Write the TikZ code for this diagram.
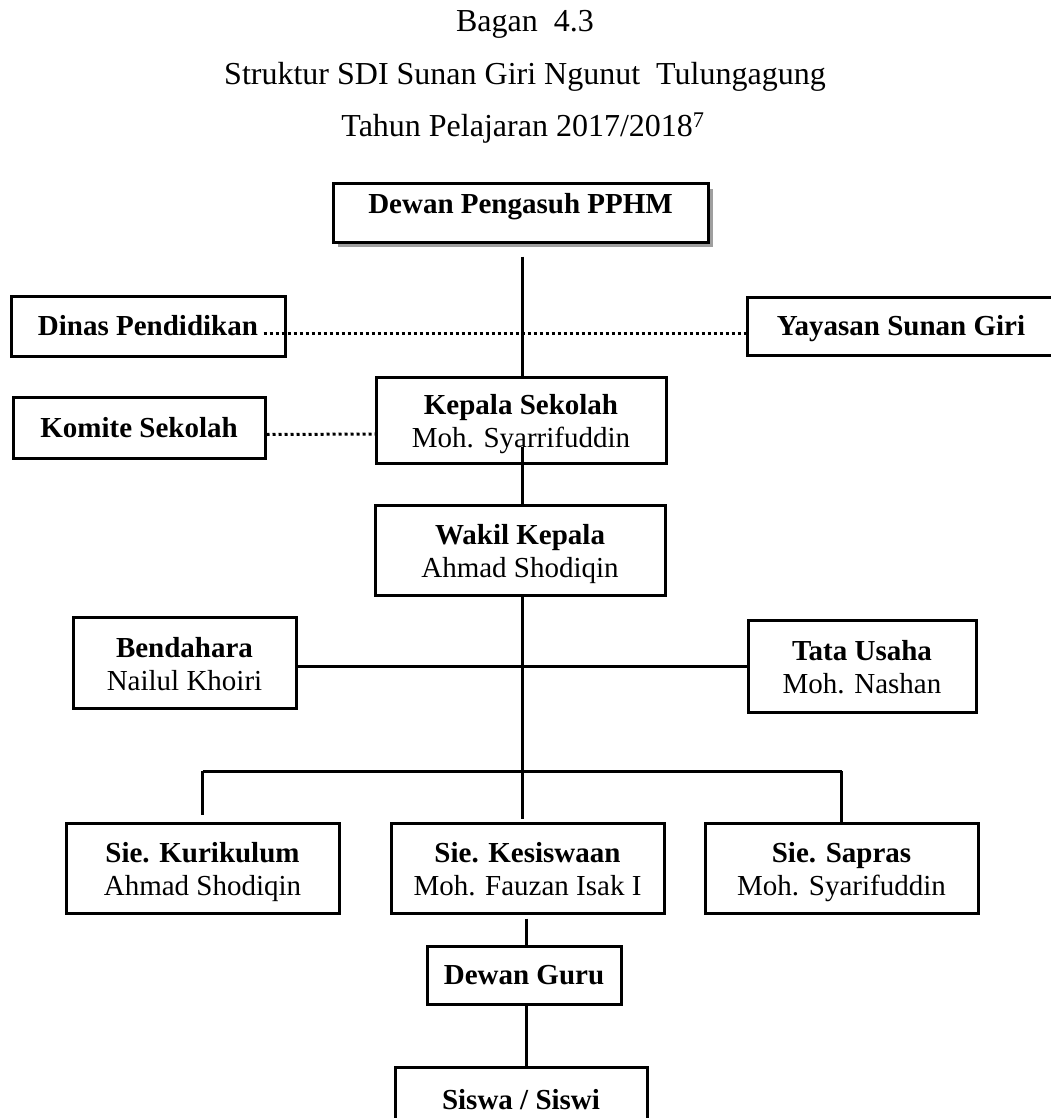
\documentclass[tikz,border=0pt]{standalone}
\usepackage{fontspec}
\setmainfont{Liberation Serif}
\usetikzlibrary{shadows}
\newcommand{\tstr}[1]{\rule{0pt}{#1}}
\newcommand{\bstr}[1]{\rule[-#1]{0pt}{0pt}}
\begin{document}
\begin{tikzpicture}[x=1pt,y=-1pt,
  box/.style={draw, line width=3pt, rectangle, inner sep=0pt, align=center, fill=white,
              font=\fontsize{29}{33}\selectfont},
  conn/.style={line width=3pt},
  dotline/.style={line width=3pt, dash pattern=on 3pt off 3pt},
  titletext/.style={font=\fontsize{32}{36}\selectfont, anchor=base, inner sep=0pt}]
\useasboundingbox (0,0) rectangle (1051,1118);

% titles
\node[titletext] (t1) at (525,32) {Bagan\ \ 4.3};
\node[titletext] (t2) at (525,85) {Struktur SDI Sunan Giri Ngunut\ \ Tulungagung};
\node[titletext] (t3) at (523,137) {Tahun Pelajaran 2017/2018\textsuperscript{7}};

% boxes
\node[box, minimum width=375pt, minimum height=58pt,
      drop shadow={shadow xshift=5pt, shadow yshift=-5pt, fill=gray!75, opacity=1}]
      (pphm) at (520.5,213) {\textbf{Dewan Pengasuh PPHM}\bstr{20pt}};
\node[box, minimum width=274pt, minimum height=60pt] (dinas) at (148,326) {\textbf{Dinas Pendidikan}};
\node[box, minimum width=308pt, minimum height=58pt] (yayasan) at (901,326) {\tstr{26pt}\textbf{Yayasan Sunan Giri}};
\node[box, minimum width=252pt, minimum height=61pt] (komite) at (139,427.5) {\textbf{Komite Sekolah}};
\node[box, minimum width=290pt, minimum height=86pt] (kepala) at (521,420) {\tstr{30pt}\textbf{Kepala Sekolah}\\Moh. Syarrifuddin\bstr{8pt}};
\node[box, minimum width=290pt, minimum height=90pt] (wakil) at (520,550) {\tstr{30pt}\textbf{Wakil Kepala}\\Ahmad Shodiqin\bstr{8pt}};
\node[box, minimum width=223pt, minimum height=91pt] (bendahara) at (184.5,662.5) {\tstr{30pt}\textbf{Bendahara}\\Nailul Khoiri\bstr{8pt}};
\node[box, minimum width=228pt, minimum height=92pt] (tata) at (862,666) {\tstr{30pt}\textbf{Tata Usaha}\\Moh. Nashan\bstr{8pt}};
\node[box, minimum width=273pt, minimum height=90pt] (kurikulum) at (202.5,868) {\tstr{30pt}\textbf{Sie. Kurikulum}\\Ahmad Shodiqin\bstr{8pt}};
\node[box, minimum width=273pt, minimum height=90pt] (kesiswaan) at (527.5,868) {\tstr{30pt}\textbf{Sie. Kesiswaan}\\Moh. Fauzan Isak I\bstr{8pt}};
\node[box, minimum width=273pt, minimum height=90pt] (sapras) at (841.5,868) {\tstr{30pt}\textbf{Sie. Sapras}\\Moh. Syarifuddin\bstr{8pt}};
\node[box, minimum width=194pt, minimum height=58pt] (guru) at (524,975) {\textbf{Dewan Guru}};
\node[box, minimum width=252pt, minimum height=64pt, anchor=north] (siswa) at (521,1066) {\textbf{Siswa / Siswi}};

% hub coordinates
\coordinate (hubA) at (522,666);
\coordinate (hubB) at (522,771);
\coordinate (endC) at (522,819);

% connectors
\draw[conn] ([yshift=-13pt]pphm.south -| 522,0) -- (kepala.north -| 522,0);
\draw[conn] (522,447) -- (wakil.north -| 522,0);
\draw[conn] (wakil.south -| 522,0) -- (endC);
\draw[conn] (bendahara.east |- hubA) -- (tata.west |- hubA);
\draw[conn] (kurikulum.north |- hubB) -- (sapras.north |- hubB);
\draw[conn] (kurikulum.north |- hubB) -- ([yshift=7pt]kurikulum.north);
\draw[conn] (sapras.north |- hubB) -- (sapras.north);
\draw[conn] ([yshift=-4pt]kesiswaan.south -| 526,0) -- (guru.north -| 526,0);
\draw[conn] (guru.south -| 526,0) -- (siswa.north -| 526,0);

% dotted links
\draw[dotline] ([xshift=-23pt,yshift=-7pt]dinas.east) -- ([yshift=-7pt]yayasan.west);
\draw[dotline] ([yshift=-7pt]komite.east) -- ([xshift=4pt]kepala.west |- 0,434);
\end{tikzpicture}
\end{document}
